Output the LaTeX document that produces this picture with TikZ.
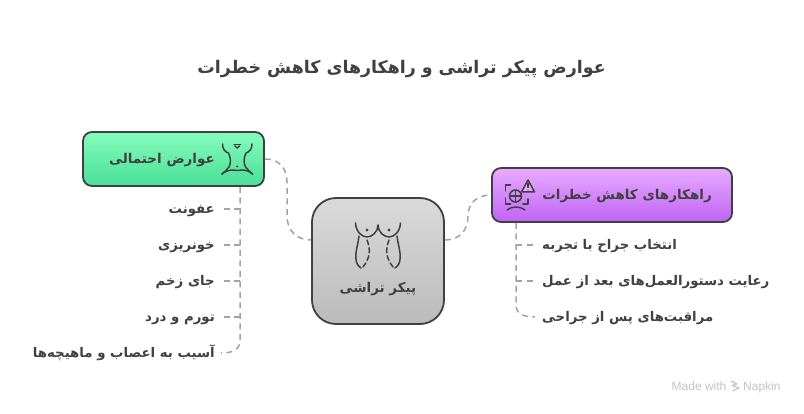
\documentclass[tikz,border=0pt]{standalone}
\usepackage{fontspec}
\setmainfont{Liberation Sans}
\newfontfamily\fa[Script=Arabic]{DejaVu Sans}
\TeXXeTstate=1
\definecolor{ink}{HTML}{404040}
\definecolor{wire}{HTML}{A3A3A3}
\definecolor{HTMLgreenA}{HTML}{86FCBC}
\definecolor{HTMLgreenB}{HTML}{48DF96}
\definecolor{HTMLgreyA}{HTML}{DADADA}
\definecolor{HTMLgreyB}{HTML}{BBBBBB}
\definecolor{HTMLpurpA}{HTML}{E8ABFF}
\definecolor{HTMLpurpB}{HTML}{C064F5}
\definecolor{HTMLmark}{HTML}{C4C4C4}
\newcommand{\fatxt}[1]{{\fa\bfseries\beginR #1\endR}}
\tikzset{
  box/.style={draw=ink,line width=1.8pt,rounded corners=#1,inner sep=0pt,shading angle=0},
  boxtext/.style={text=ink,inner sep=0pt,font=\fontsize{13.5}{16}\selectfont},
  itemtext/.style={text=ink,inner sep=0pt,font=\fontsize{13.3}{16}\selectfont},
  conn/.style={draw=wire,line width=1.5pt,dash pattern=on 6pt off 4.5pt},
  ico/.style={draw=ink,line width=1.5pt,line cap=round,line join=round},
  marktext/.style={anchor=base west,inner sep=0pt,text=HTMLmark,font=\fontsize{12}{14}\selectfont},
}
\begin{document}
\begin{tikzpicture}[x=1pt,y=-1pt]
\useasboundingbox (0,0) rectangle (804,414);
\fill[white] (0,0) rectangle (804,414);
\node[text=ink,inner sep=0pt,anchor=base,font=\fontsize{17.4}{20}\selectfont] (title) at (401.5,74) {\fatxt{عوارض پیکر تراشی و راهکارهای کاهش خطرات}};

\node[box=9pt,minimum width=181pt,minimum height=54pt,top color=HTMLgreenA,bottom color=HTMLgreenB] (risk) at (173.5,159) {};
\node[box=24pt,minimum width=132pt,minimum height=126pt,top color=HTMLgreyA,bottom color=HTMLgreyB] (core) at (378,261) {};
\node[box=9pt,minimum width=240pt,minimum height=54pt,top color=HTMLpurpA,bottom color=HTMLpurpB] (plan) at (612,195) {};

\node[boxtext,anchor=base east] (risklabel) at (215,164) {\fatxt{عوارض احتمالی}};
\node[boxtext,anchor=base east] (planlabel) at (712,200) {\fatxt{راهکارهای کاهش خطرات}};
\node[boxtext,anchor=base] (corelabel) at (378,293) {\fatxt{پیکر تراشی}};

\node[itemtext,anchor=base east] (a1) at (215,214) {\fatxt{عفونت}};
\node[itemtext,anchor=base east] (a2) at (215,250) {\fatxt{خونریزی}};
\node[itemtext,anchor=base east] (a3) at (215,286) {\fatxt{جای زخم}};
\node[itemtext,anchor=base east] (a4) at (215,322) {\fatxt{تورم و درد}};
\node[itemtext,anchor=base east] (a5) at (215,358) {\fatxt{آسیب به اعصاب و ماهیچه‌ها}};
\node[itemtext,anchor=base west] (b1) at (542,250) {\fatxt{انتخاب جراح با تجربه}};
\node[itemtext,anchor=base west] (b2) at (542,286) {\fatxt{رعایت دستورالعمل‌های بعد از عمل}};
\node[itemtext,anchor=base west] (b3) at (542,322) {\fatxt{مراقبت‌های پس از جراحی}};

% junction points on the two trunks
\coordinate (ja1) at (240,209); \coordinate (ja2) at (240,245); \coordinate (ja3) at (240,281); \coordinate (ja4) at (240,317);
\coordinate (jb1) at (516,245); \coordinate (jb2) at (516,281);
\coordinate (ea1) at (222,209); \coordinate (ea2) at (222,245); \coordinate (ea3) at (222,281); \coordinate (ea4) at (222,317); \coordinate (ea5) at (221,353);
\coordinate (eb1) at (535,245); \coordinate (eb2) at (535,281); \coordinate (eb3) at (535,317);

% connectors
\draw[conn] (risk.east) .. controls (279,159) and (287,168) .. (287,182) -- (287,216) .. controls (287,231) and (297,240) .. ([yshift=21pt]core.west);
\draw[conn] ([yshift=21pt]core.east) .. controls (459,240) and (468,231) .. (468,216) .. controls (468,203) and (477,195) .. (plan.west);
\draw[conn] (risk.south -| ja1) -- (240,340) .. controls (240,349) and (234,353) .. (ea5);
\draw[conn] (ja1) -- (ea1);
\draw[conn] (ja2) -- (ea2);
\draw[conn] (ja3) -- (ea3);
\draw[conn] (ja4) -- (ea4);
\draw[conn] (plan.south -| jb1) -- (516,305) .. controls (516,313) and (522,317) .. (eb3);
\draw[conn] (jb1) -- (eb1);
\draw[conn] (jb2) -- (eb2);

% waist icon
\draw[ico] (222.5,144) .. controls (222.5,149) and (225,152) .. (228.5,153) .. controls (231,158) and (231,163) .. (229,167) .. controls (227,170) and (224,172) .. (222,174);
\draw[ico] (252,144) .. controls (252,149) and (249.5,152) .. (246,153) .. controls (243.5,158) and (243.5,163) .. (245.5,167) .. controls (247.5,170) and (250.5,172) .. (252.5,174);
\draw[ico] (222,174) .. controls (228,169) and (233,170) .. (237.2,170.5) .. controls (242,170) and (247,169) .. (252.5,174);
\draw[ico] (234,144.5) -- (240.5,144.5);
\draw[ico] (235,146) -- (237.2,148) -- (239.5,146);
\fill[ink] (237.2,166.5) circle (1.1pt);

% breast icon
\draw[ico] (355.5,223) .. controls (356,232) and (362,237) .. (367,237) .. controls (372,237) and (378,232) .. (378,225) .. controls (378,232) and (384,237) .. (389,237) .. controls (394,237) and (400,232) .. (400.5,223);
\fill[ink] (367,230) circle (1.6pt) (389,230) circle (1.6pt);
\draw[ico] (359,236) .. controls (358,245) and (355,252) .. (356,259) .. controls (356,263) and (358,266) .. (361,268);
\draw[ico] (397,236) .. controls (398,245) and (401,252) .. (400,259) .. controls (400,263) and (398,266) .. (395,268);
\draw[ico,dash pattern=on 5pt off 3pt] (367,240) .. controls (371,250) and (370,258) .. (363,267);
\draw[ico,dash pattern=on 5pt off 3pt] (389,240) .. controls (385,250) and (386,258) .. (393,267);

% risk-reduction icon
\draw[ico] (510.5,185) -- (505.5,185) -- (505.5,191);
\draw[ico] (505.5,198) -- (505.5,204) -- (510.5,204);
\draw[ico] (523,204) -- (528,204) -- (528,199);
\draw[ico] (515.5,196) circle (6pt);
\draw[ico] (515.5,190) -- (515.5,202) (509.5,196) -- (521.5,196);
\draw[ico] (507,210) .. controls (512,206) and (520,206) .. (525,210);
\draw[ico,fill=HTMLpurpA] (528,180) -- (534.5,192) -- (521.5,192) -- cycle;
\draw[ink,line width=1.2pt] (528,183.5) -- (528,188);
\fill[ink] (528,190) circle (.7pt);

% watermark
\node[marktext] (made) at (671.5,390) {Made with};
\node[marktext] (nap) at (743,390) {Napkin};
\draw[HTMLmark,line width=1.2pt,line join=round] (731,381) -- (737,384) -- (732,385.5) -- (739,388) -- (733,391);
\end{tikzpicture}
\end{document}
